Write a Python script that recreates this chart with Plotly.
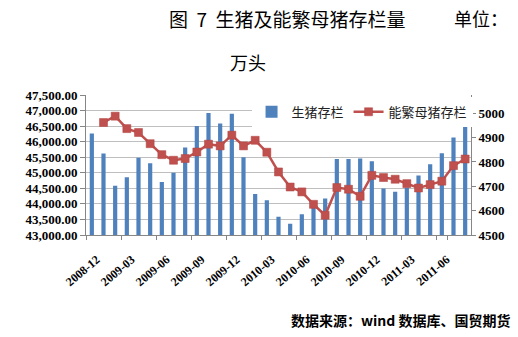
import plotly.graph_objects as go

months = ["2008-12",
          "2009-01", "2009-02", "2009-03", "2009-04", "2009-05", "2009-06",
          "2009-07", "2009-08", "2009-09", "2009-10", "2009-11", "2009-12",
          "2010-01", "2010-02", "2010-03", "2010-04", "2010-05", "2010-06",
          "2010-07", "2010-08", "2010-09", "2010-10", "2010-11", "2010-12",
          "2011-01", "2011-02", "2011-03", "2011-04", "2011-05", "2011-06",
          "2011-07", "2011-08"]
hogs = [46260, 45620, 44580, 44860, 45480, 45310, 44705, 45000, 45810, 46505,
        46920, 46580, 46900, 45500, 44315, 44115, 43590, 43360, 43667, 43900,
        44175, 45440, 45440, 45460, 45370, 44495, 44390, 44530, 44912, 45272,
        45630, 46130, 46568]
sows = [None, 4962, 4988, 4937, 4921, 4875, 4830, 4807, 4814, 4841, 4873,
        4866, 4910, 4866, 4889, 4840, 4759, 4697, 4677, 4626, 4581, 4695,
        4688, 4659, 4745, 4736, 4729, 4711, 4693, 4707, 4721, 4785, 4812]
xticks = months[::3]
left_ticks = [43000, 43500, 44000, 44500, 45000, 45500, 46000, 46500, 47000, 47500]
right_ticks = [4500, 4600, 4700, 4800, 4900, 5000]

CJK = "Noto Sans CJK SC"
SERIF = "Liberation Serif"

fig = go.Figure()
fig.add_trace(go.Bar(x=months, y=hogs, name="生猪存栏",
                     marker=dict(color="#4F81BD", line=dict(width=0))))
fig.add_trace(go.Scatter(x=months, y=sows, name="能繁母猪存栏", yaxis="y2",
                         mode="lines+markers",
                         line=dict(color="#C0504D", width=2.5),
                         marker=dict(symbol="square", size=8, color="#C0504D",
                                     line=dict(color="#B04542", width=0.5))))

fig.update_layout(
    width=518, height=337,
    margin=dict(l=86, r=47, t=95, b=102),
    paper_bgcolor="white", plot_bgcolor="white",
    bargap=0.64,
    showlegend=True,
    legend=dict(orientation="h", x=0.43, y=0.88, xanchor="left", yanchor="middle",
                bgcolor="white", font=dict(family=CJK, size=13, color="#222"),
                itemwidth=30, tracegroupgap=0),
    xaxis=dict(type="category", range=[-0.5, len(months) - 0.5],
               tickmode="array", tickvals=xticks, ticktext=xticks,
               tickangle=-40, tickfont=dict(family=SERIF, size=12, color="black", weight="bold"),
               ticklabelstandoff=12, ticklabelshift=5,
               showgrid=False, showline=True, linecolor="#868686", linewidth=1,
               ticks="outside", ticklen=4, tickcolor="#868686", tickson="boundaries"),
    yaxis=dict(range=[43000, 47500], tickvals=left_ticks, tickformat=",.2f",
               tickfont=dict(family=SERIF, size=13, color="black", weight="bold"),
               showgrid=True, gridcolor="#BFBFBF", gridwidth=1,
               showline=True, linecolor="#868686", linewidth=1,
               ticks="outside", ticklen=5, tickcolor="#868686", zeroline=False),
    yaxis2=dict(range=[4500, 5075], tickvals=right_ticks, overlaying="y", side="right",
                tickfont=dict(family=SERIF, size=13, color="black", weight="bold"),
                showgrid=False, showline=True, linecolor="#868686", linewidth=1,
                ticks="outside", ticklen=4, tickcolor="#868686", zeroline=False),
)

fig.add_annotation(text="图\u00a0\u00a07\u00a0\u00a0生猪及能繁母猪存栏量", xref="paper", yref="paper",
                   x=(167 - 86) / 385, y=1 + (95 - 18) / 140, xanchor="left", yanchor="middle",
                   showarrow=False, font=dict(family=CJK, size=19, color="black"))
fig.add_annotation(text="单位：", xref="paper", yref="paper",
                   x=(452 - 86) / 385, y=1 + (95 - 18) / 140, xanchor="left", yanchor="middle",
                   showarrow=False, font=dict(family=CJK, size=18, color="black"))
fig.add_annotation(text="万头", xref="paper", yref="paper",
                   x=(228 - 86) / 385, y=1 + (95 - 62) / 140, xanchor="left", yanchor="middle",
                   showarrow=False, font=dict(family=CJK, size=18, color="black"))
fig.add_annotation(text="<b>数据来源：wind 数据库、国贸期货</b>", xref="paper", yref="paper",
                   x=(513 - 86) / 385, y=-(320 - 235) / 140, xanchor="right", yanchor="middle",
                   showarrow=False, font=dict(family=CJK, size=14, color="black"))

fig.write_html("out.html")
